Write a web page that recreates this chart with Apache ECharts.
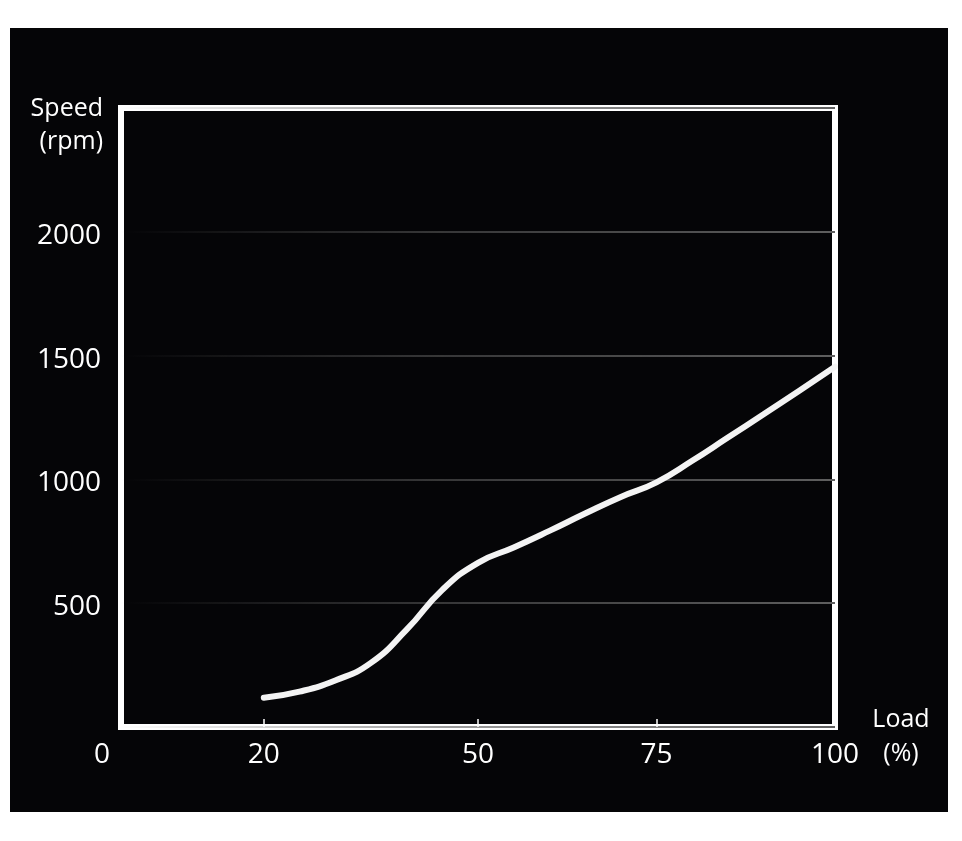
<!DOCTYPE html>
<html>
<head>
<meta charset="utf-8">
<script src="https://cdn.jsdelivr.net/npm/echarts@6/dist/echarts.min.js"></script>
<style>
  html, body { margin: 0; padding: 0; background: #fff; }
  #chart {
    position: absolute;
    left: 10px;
    top: 28px;
    width: 938px;
    height: 784px;
    background: #050507;
  }
</style>
</head>
<body>
<div id="chart"></div>
<script>
// load (%) vs speed (rpm)
var loadPct = [20, 25, 30, 35, 40, 45, 50, 55, 60, 65, 70, 75, 80, 85, 90, 95, 100]
var speedRpm = [118, 143, 188, 259, 393, 554, 663, 725, 792, 862, 929, 988, 1075, 1169, 1263, 1358, 1455]

var xTicks = [0, 20, 50, 75, 100]
var yTicks = [500, 1000, 1500, 2000]

var chart = echarts.init(document.getElementById('chart'))

var font = '"Open Sans", "DejaVu Sans", sans-serif'

chart.setOption({
  animation: false,
  grid: {
    left: 111,
    right: 113,
    top: 80,
    bottom: 85,
    show: true,
    borderColor: '#ffffff',
    borderWidth: 6,
    backgroundColor: 'transparent'
  },
  xAxis: {
    type: 'value',
    min: 0,
    max: 100,
    // blank first line pushes the two-line name down a bit
    name: '{s| }\n{a|Load}\n{a|(%)}',
    nameLocation: 'end',
    nameGap: 66,
    nameTextStyle: {
      color: '#ffffff',
      fontFamily: font,
      fontSize: 25,
      align: 'center',
      verticalAlign: 'middle',
      rich: {
        s: { fontSize: 10, lineHeight: 20 },
        a: { color: '#ffffff', fontFamily: font, fontSize: 25, lineHeight: 34 }
      }
    },
    axisLine: { show: false },
    axisTick: {
      show: true,
      inside: true,
      length: 8,
      customValues: [20, 50, 75],
      lineStyle: { color: '#ffffff', width: 1.5 }
    },
    splitLine: { show: false },
    axisLabel: {
      customValues: xTicks,
      color: '#ffffff',
      fontFamily: font,
      fontSize: 28,
      margin: 14,
      formatter: function (v) {
        return v === 0 ? '{z|0}' : String(v)
      },
      rich: {
        z: { fontSize: 28, fontFamily: font, color: '#ffffff', padding: [0, 38, 0, 0] }
      }
    }
  },
  yAxis: {
    type: 'value',
    min: 0,
    max: 2500,
    interval: 500,
    name: 'Speed\n(rpm)',
    nameLocation: 'end',
    nameGap: 16,
    nameTextStyle: {
      color: '#ffffff',
      fontFamily: font,
      fontSize: 25,
      lineHeight: 33,
      align: 'right',
      verticalAlign: 'top',
      padding: [0, 18, 0, 0]
    },
    axisLine: { show: false },
    axisTick: { show: false },
    axisLabel: {
      customValues: yTicks,
      color: '#ffffff',
      fontFamily: font,
      fontSize: 28,
      margin: 20,
      verticalAlign: 'top',
      lineHeight: 8,
      formatter: function (v) { return String(v) }
    },
    splitLine: {
      show: true,
      lineStyle: {
        width: 2,
        color: new echarts.graphic.LinearGradient(0, 0, 1, 0, [
          { offset: 0, color: 'rgba(90,90,90,0)' },
          { offset: 0.45, color: 'rgba(90,90,90,0.6)' },
          { offset: 1, color: 'rgba(95,95,95,1)' }
        ])
      }
    }
  },
  series: [
    {
      type: 'line',
      data: loadPct.map(function (x, i) { return [x, speedRpm[i]] }),
      smooth: 0.5,
      showSymbol: false,
      lineStyle: { color: '#f4f4f4', width: 6, cap: 'round' },
      z: 5
    }
  ]
})
</script>
</body>
</html>
